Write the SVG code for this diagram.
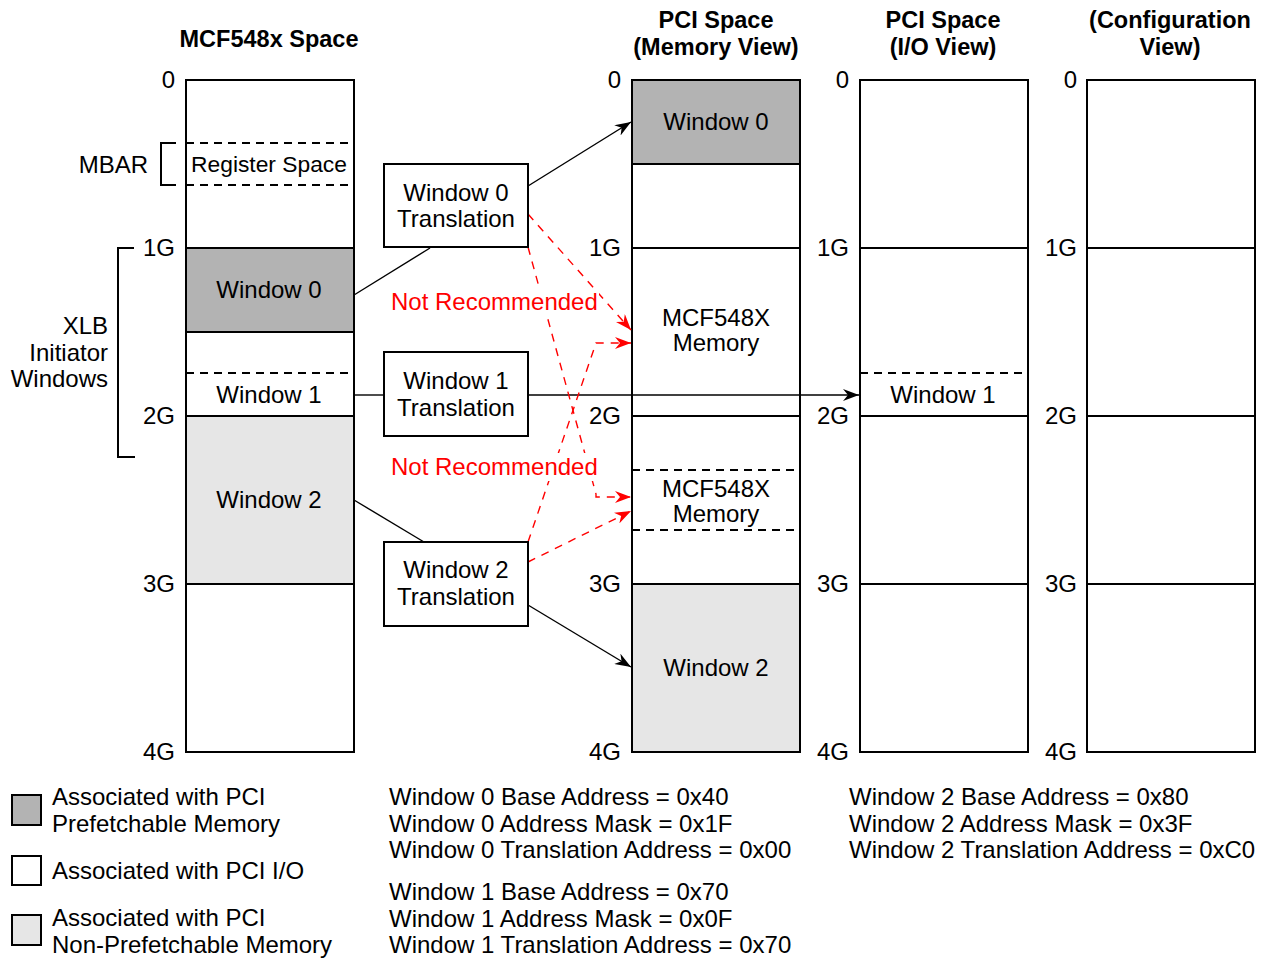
<svg xmlns="http://www.w3.org/2000/svg" width="1265" height="960" viewBox="0 0 1265 960">
<style>
text{font-family:"Liberation Sans",Arial,sans-serif;font-size:24px;fill:#000}
.b{font-weight:bold;font-size:23.5px}
.m{text-anchor:middle}
.r{text-anchor:end}
.red{fill:#ff0000}
.frame{fill:none;stroke:#000;stroke-width:2}
.ln{stroke:#000;stroke-width:2;fill:none}
.dl{stroke:#000;stroke-width:2;stroke-dasharray:8,6;fill:none}
.box{fill:#fff;stroke:#000;stroke-width:2}
.c{stroke:#000;stroke-width:1.4;fill:none}
.rc{stroke:#ff0000;stroke-width:1.4;stroke-dasharray:8,7;fill:none}
.pf{fill:#b3b3b3}
.np{fill:#e6e6e6}
</style>
<defs>
<marker id="ah" markerUnits="userSpaceOnUse" markerWidth="18" markerHeight="12" refX="16" refY="6" orient="auto">
<path d="M0,0 L16,6 L0,12 L5,6 z" fill="#000"/>
</marker>
<marker id="rh" markerUnits="userSpaceOnUse" markerWidth="18" markerHeight="12" refX="16" refY="6" orient="auto">
<path d="M0,0 L16,6 L0,12 L5,6 z" fill="#ff0000"/>
</marker>
</defs>

<g id="titles">
<text class="b m" x="269" y="47">MCF548x Space</text>
<text class="b m" x="716" y="28">PCI Space</text>
<text class="b m" x="716" y="55">(Memory View)</text>
<text class="b m" x="943" y="28">PCI Space</text>
<text class="b m" x="943" y="55">(I/O View)</text>
<text class="b m" x="1170" y="28">(Configuration</text>
<text class="b m" x="1170" y="55">View)</text>
</g>

<g id="mcf-space">
<rect class="pf" x="186" y="248" width="168" height="84"/>
<rect class="np" x="186" y="416" width="168" height="168"/>
<line class="dl" x1="186" y1="143" x2="354" y2="143"/>
<line class="dl" x1="186" y1="185" x2="354" y2="185"/>
<line class="ln" x1="186" y1="248" x2="354" y2="248"/>
<line class="ln" x1="186" y1="332" x2="354" y2="332"/>
<line class="dl" x1="186" y1="373" x2="354" y2="373"/>
<line class="ln" x1="186" y1="416" x2="354" y2="416"/>
<line class="ln" x1="186" y1="584" x2="354" y2="584"/>
<rect class="frame" x="186" y="80" width="168" height="672"/>
<text class="m" x="269" y="172" style="font-size:22.8px">Register Space</text>
<text class="m" x="269" y="298">Window 0</text>
<text class="m" x="269" y="403">Window 1</text>
<text class="m" x="269" y="508">Window 2</text>
<text class="r" x="175" y="88">0</text>
<text class="r" x="175" y="256">1G</text>
<text class="r" x="175" y="424">2G</text>
<text class="r" x="175" y="592">3G</text>
<text class="r" x="175" y="760">4G</text>
<path class="ln" d="M176,143 H161 V185 H176"/>
<text class="r" x="148" y="173">MBAR</text>
<path class="ln" d="M134,248 H118 V457 H135"/>
<text class="r" x="108" y="334">XLB</text>
<text class="r" x="108" y="361">Initiator</text>
<text class="r" x="108" y="387">Windows</text>
</g>

<g id="pci-memory">
<rect class="pf" x="632" y="80" width="168" height="84"/>
<rect class="np" x="632" y="584" width="168" height="168"/>
<line class="ln" x1="632" y1="164" x2="800" y2="164"/>
<line class="ln" x1="632" y1="248" x2="800" y2="248"/>
<line class="ln" x1="632" y1="416" x2="800" y2="416"/>
<line class="dl" x1="632" y1="470" x2="800" y2="470"/>
<line class="dl" x1="632" y1="530" x2="800" y2="530"/>
<line class="ln" x1="632" y1="584" x2="800" y2="584"/>
<rect class="frame" x="632" y="80" width="168" height="672"/>
<text class="m" x="716" y="130">Window 0</text>
<text class="m" x="716" y="326">MCF548X</text>
<text class="m" x="716" y="351">Memory</text>
<text class="m" x="716" y="497">MCF548X</text>
<text class="m" x="716" y="522">Memory</text>
<text class="m" x="716" y="676">Window 2</text>
<text class="r" x="621" y="88">0</text>
<text class="r" x="621" y="256">1G</text>
<text class="r" x="621" y="424">2G</text>
<text class="r" x="621" y="592">3G</text>
<text class="r" x="621" y="760">4G</text>
</g>

<g id="pci-io">
<line class="ln" x1="860" y1="248" x2="1028" y2="248"/>
<line class="dl" x1="860" y1="373" x2="1028" y2="373"/>
<line class="ln" x1="860" y1="416" x2="1028" y2="416"/>
<line class="ln" x1="860" y1="584" x2="1028" y2="584"/>
<rect class="frame" x="860" y="80" width="168" height="672"/>
<text class="m" x="943" y="403">Window 1</text>
<text class="r" x="849" y="88">0</text>
<text class="r" x="849" y="256">1G</text>
<text class="r" x="849" y="424">2G</text>
<text class="r" x="849" y="592">3G</text>
<text class="r" x="849" y="760">4G</text>
</g>

<g id="pci-config">
<line class="ln" x1="1087" y1="248" x2="1255" y2="248"/>
<line class="ln" x1="1087" y1="416" x2="1255" y2="416"/>
<line class="ln" x1="1087" y1="584" x2="1255" y2="584"/>
<rect class="frame" x="1087" y="80" width="168" height="672"/>
<text class="r" x="1077" y="88">0</text>
<text class="r" x="1077" y="256">1G</text>
<text class="r" x="1077" y="424">2G</text>
<text class="r" x="1077" y="592">3G</text>
<text class="r" x="1077" y="760">4G</text>
</g>

<g id="connectors">
<line class="c" x1="354" y1="295" x2="430" y2="248"/>
<line class="c" x1="528" y1="186" x2="631" y2="122" marker-end="url(#ah)"/>
<line class="c" x1="354" y1="395" x2="384" y2="395"/>
<line class="c" x1="528" y1="395" x2="859" y2="395" marker-end="url(#ah)"/>
<line class="c" x1="354" y1="500" x2="424" y2="542"/>
<line class="c" x1="528" y1="605" x2="631" y2="667" marker-end="url(#ah)"/>
<path class="rc" d="M528,214 L631,330" marker-end="url(#rh)"/>
<path class="rc" d="M528,247 L596,494 V497 H631" marker-end="url(#rh)"/>
<path class="rc" d="M528,542 L596,343 H631" marker-end="url(#rh)"/>
<path class="rc" d="M528,562 L631,511" marker-end="url(#rh)"/>
</g>

<g id="labels-red">
<rect x="389" y="288" width="210" height="28" fill="#fff"/>
<rect x="389" y="453" width="210" height="28" fill="#fff"/>
<text class="red" x="391" y="310">Not Recommended</text>
<text class="red" x="391" y="475">Not Recommended</text>
</g>

<g id="w0-translation">
<rect class="box" x="384" y="164" width="144" height="83"/>
<text class="m" x="456" y="201">Window 0</text>
<text class="m" x="456" y="227">Translation</text>
</g>
<g id="w1-translation">
<rect class="box" x="384" y="352" width="144" height="84"/>
<text class="m" x="456" y="389">Window 1</text>
<text class="m" x="456" y="416">Translation</text>
</g>
<g id="w2-translation">
<rect class="box" x="384" y="542" width="144" height="84"/>
<text class="m" x="456" y="578">Window 2</text>
<text class="m" x="456" y="605">Translation</text>
</g>

<g id="legend">
<rect class="frame" x="12" y="795" width="29" height="30" style="fill:#b3b3b3"/>
<rect class="frame" x="12" y="856" width="29" height="29" style="fill:#fff"/>
<rect class="frame" x="12" y="915" width="29" height="30" style="fill:#e6e6e6"/>
<text x="52" y="805">Associated with PCI</text>
<text x="52" y="832">Prefetchable Memory</text>
<text x="52" y="879">Associated with PCI I/O</text>
<text x="52" y="926">Associated with PCI</text>
<text x="52" y="953">Non-Prefetchable Memory</text>
</g>

<g id="register-values">
<text x="389" y="805">Window 0 Base Address = 0x40</text>
<text x="389" y="832">Window 0 Address Mask = 0x1F</text>
<text x="389" y="858">Window 0 Translation Address = 0x00</text>
<text x="389" y="900">Window 1 Base Address = 0x70</text>
<text x="389" y="927">Window 1 Address Mask = 0x0F</text>
<text x="389" y="953">Window 1 Translation Address = 0x70</text>
<text x="849" y="805">Window 2 Base Address = 0x80</text>
<text x="849" y="832">Window 2 Address Mask = 0x3F</text>
<text x="849" y="858">Window 2 Translation Address = 0xC0</text>
</g>
</svg>
